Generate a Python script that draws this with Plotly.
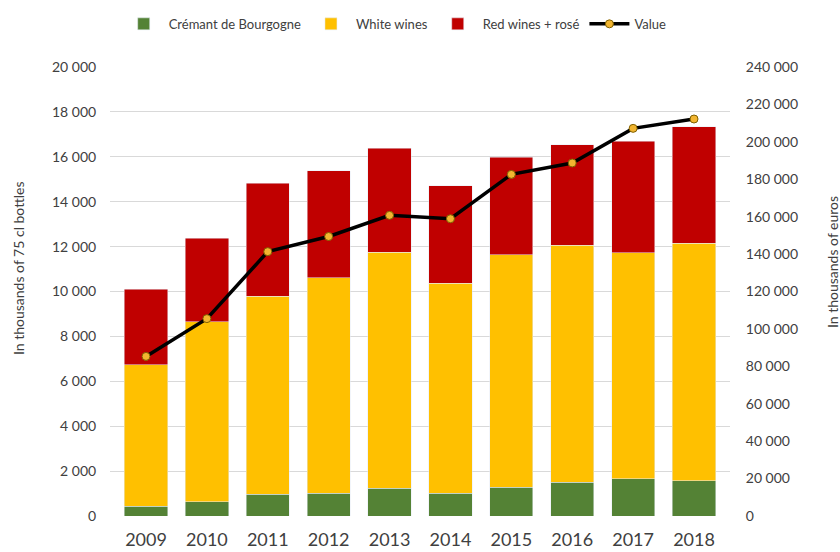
import plotly.graph_objects as go

years = ["2009", "2010", "2011", "2012", "2013", "2014", "2015", "2016", "2017", "2018"]
cremant = [430, 640, 960, 1020, 1230, 1020, 1280, 1510, 1660, 1570]
white_wines = [6300, 8010, 8820, 9590, 10510, 9340, 10360, 10560, 10070, 10590]
red_rose = [3380, 3730, 5050, 4760, 4650, 4350, 4350, 4470, 4960, 5170]
value_keur = [85300, 105500, 141300, 149400, 160700, 158900, 182600, 188700, 207200, 212200]

left_ticks = list(range(0, 20001, 2000))
right_ticks = list(range(0, 240001, 20000))

FONT = "Lato"
TXT = "#404040"

fig = go.Figure()
fig.add_trace(go.Bar(x=years, y=cremant, name="Crémant de Bourgogne", marker_color="#548235"))
fig.add_trace(go.Bar(x=years, y=white_wines, name="White wines", marker_color="#FFC000"))
fig.add_trace(go.Bar(x=years, y=red_rose, name="Red wines + rosé", marker_color="#C00000"))
fig.add_trace(go.Scatter(x=years, y=value_keur, name="Value", yaxis="y2", mode="lines+markers",
                         line=dict(color="black", width=3.5),
                         marker=dict(size=8, color="#F2B530", line=dict(color="#7F6000", width=1))))

fig.update_layout(
    width=840, height=552,
    margin=dict(l=110, r=110, t=67, b=36, autoexpand=False),
    barmode="stack", bargap=0.29,
    plot_bgcolor="white", paper_bgcolor="white",
    separators=". ",
    font=dict(family=FONT, color=TXT, size=14),
    showlegend=True,
    legend=dict(orientation="h", x=0.46, xanchor="center", y=1.096, yanchor="middle",
                font=dict(size=13, color=TXT), itemwidth=40, traceorder="normal",
                bgcolor="rgba(0,0,0,0)"),
    xaxis=dict(type="category", tickfont=dict(size=18, color=TXT), ticks="outside",
               ticklen=7, tickcolor="rgba(0,0,0,0)", showgrid=False, showline=False,
               automargin=False),
    yaxis=dict(range=[0, 20000], tickvals=left_ticks, tickformat=",d",
               showgrid=True, gridcolor="#D9D9D9", gridwidth=1, zeroline=False,
               ticks="outside", ticklen=10, tickcolor="rgba(0,0,0,0)",
               tickfont=dict(size=14, color=TXT), automargin=False),
    yaxis2=dict(range=[0, 240000], tickvals=right_ticks, tickformat=",d", overlaying="y",
                side="right", showgrid=False, zeroline=False,
                ticks="outside", ticklen=12, tickcolor="rgba(0,0,0,0)",
                tickfont=dict(size=14, color=TXT), automargin=False),
    annotations=[
        dict(text="In thousands of 75 cl bottles", textangle=-90, xref="paper", yref="paper",
             x=(18 - 110) / 620, y=(516 - 268) / 449, showarrow=False,
             font=dict(size=14, color=TXT), xanchor="center", yanchor="middle"),
        dict(text="In thousands of euros", textangle=-90, xref="paper", yref="paper",
             x=(832 - 110) / 620, y=(516 - 262) / 449, showarrow=False,
             font=dict(size=14, color=TXT), xanchor="center", yanchor="middle"),
    ],
)

fig.write_html("out.html")
